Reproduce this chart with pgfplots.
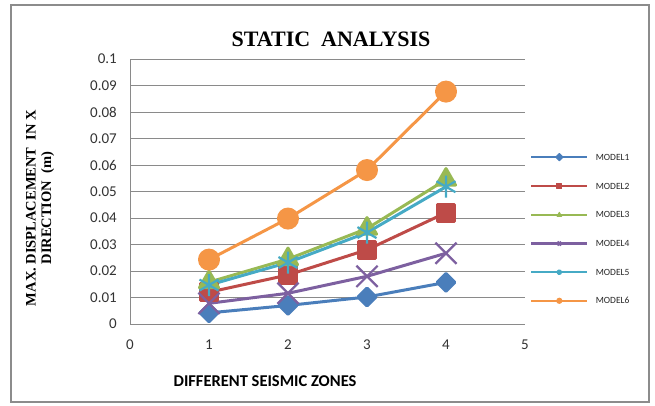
\documentclass[border=0pt]{standalone}
\usepackage{pgfplots}
\pgfplotsset{compat=1.18}
\usepackage{fontspec}
\setmainfont{Liberation Serif}
\newfontfamily\carlito{Carlito}

\definecolor{frameGray}{HTML}{8C8C8C}
\definecolor{gridGray}{HTML}{8A8A8A}
\definecolor{mBlue}{HTML}{4A7EBB}
\definecolor{mRed}{HTML}{BE4B48}
\definecolor{mGreen}{HTML}{98B954}
\definecolor{mPurple}{HTML}{7D60A0}
\definecolor{mCyan}{HTML}{46AAC5}
\definecolor{mOrange}{HTML}{F59646}

% maximum displacement in X for each model, by seismic zone
\pgfplotstableread{
zone m1 m2 m3 m4 m5 m6
1 0.0042 0.0120 0.0158 0.0078 0.0147 0.0243
2 0.0070 0.0185 0.0245 0.0116 0.0232 0.0398
3 0.0102 0.0280 0.0360 0.0180 0.0345 0.0581
4 0.0157 0.0420 0.0545 0.0267 0.0518 0.0877
}\disp

\begin{document}
\begin{tikzpicture}[x=1pt,y=1pt]
\useasboundingbox (0,0) rectangle (655,405);
\draw[frameGray, line width=2.4pt] (11,3) rectangle (649,400);

\begin{axis}[
  at={(130pt,81pt)}, anchor=south west,
  scale only axis, width=395pt, height=265pt,
  xmin=0, xmax=5, ymin=0, ymax=0.1,
  xtick={0,1,2,3,4,5},
  ytick={0,0.01,0.02,0.03,0.04,0.05,0.06,0.07,0.08,0.09,0.1},
  yticklabels={0,0.01,0.02,0.03,0.04,0.05,0.06,0.07,0.08,0.09,0.1},
  scaled y ticks=false,
  /pgf/number format/assume math mode=true,
  tick label style={font=\carlito\fontsize{15}{17}\selectfont, text=black!80, inner sep=0pt},
  y tick label style={anchor=east, xshift=-13pt},
  x tick label style={anchor=north, yshift=-16pt},
  major tick length=0pt,
  axis x line*=bottom, axis y line*=left,
  axis line style={gridGray, line width=0.9pt},
  ymajorgrids, major grid style={gridGray, line width=0.9pt},
  clip=false,
  legend style={draw=none, fill=none, at={(1.0127,0.36)}, anchor=west,
    inner sep=0pt, row sep=22.6pt,
    font=\carlito\fontsize{9.5}{10}\selectfont,
    nodes={inner sep=0pt, text height=6pt, text depth=0pt, text=black!85}},
  legend cell align=left,
  legend image code/.code={
    \draw[line width=2.2pt] (0pt,0pt) -- (56pt,0pt);
    \draw[line width=1pt, mark size=2.6pt] plot coordinates {(28pt,0pt)};
    \path (63pt,0pt);
  },
  every axis plot/.append style={line width=3pt, line join=round},
]
\addplot[mBlue, mark=square*, mark size=6.3pt, mark options={rotate=45, solid}]
  table[x=zone, y=m1] {\disp};
\addplot[mRed, mark=square*, mark size=8.3pt]
  table[x=zone, y=m2] {\disp};
\addplot[mGreen, mark=triangle*, mark size=11pt]
  table[x=zone, y=m3] {\disp};
\addplot[mPurple, mark=x, mark size=15pt, mark options={line width=2.2pt}]
  table[x=zone, y=m4] {\disp};
\addplot[mCyan, mark=asterisk, mark size=11pt, mark options={line width=2.2pt}]
  table[x=zone, y=m5] {\disp};
\addplot[mOrange, mark=*, mark size=9.5pt]
  table[x=zone, y=m6] {\disp};
\legend{MODEL1,MODEL2,MODEL3,MODEL4,MODEL5,MODEL6}
\end{axis}

\node[font=\bfseries\fontsize{22}{24}\selectfont] at (331,366) {STATIC\ \ ANALYSIS};
\node[font=\bfseries\fontsize{14.5}{15.5}\selectfont, rotate=90, align=center]
  at (40,197) {MAX. DISPLACEMENT\ \ IN X\\DIRECTION\ \ (m)};
\node[font=\carlito\bfseries\fontsize{16.5}{18}\selectfont] at (265,24)
  {DIFFERENT SEISMIC ZONES};
\end{tikzpicture}
\end{document}
